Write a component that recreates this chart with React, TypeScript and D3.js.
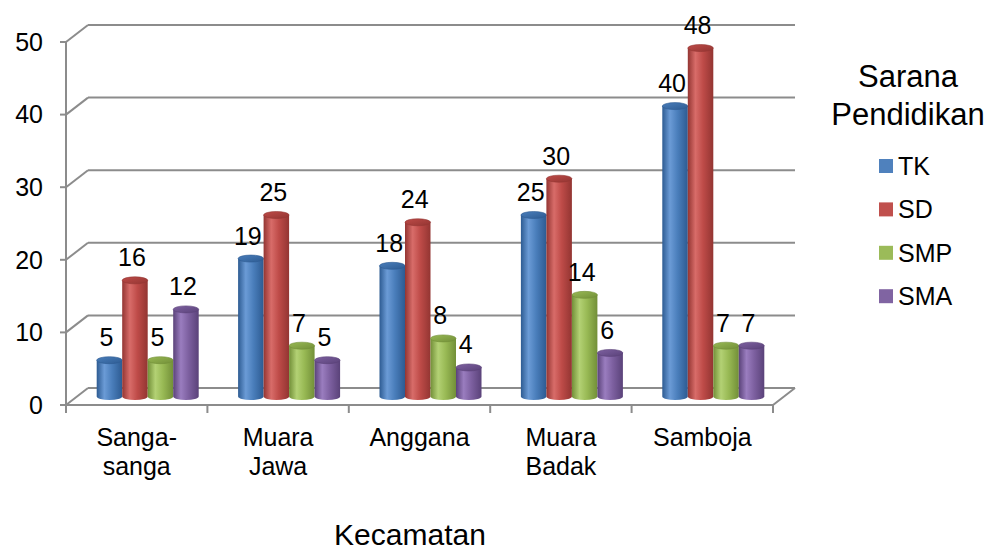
import React from "react";
import * as d3 from "d3";

const categories = ["Sanga-sanga", "Muara Jawa", "Anggana", "Muara Badak", "Samboja"];
const categoryLines = [["Sanga-", "sanga"], ["Muara", "Jawa"], ["Anggana"], ["Muara", "Badak"], ["Samboja"]];
const seriesNames = ["TK", "SD", "SMP", "SMA"];
const tkValues = [5, 19, 18, 25, 40];
const sdValues = [16, 25, 24, 30, 48];
const smpValues = [5, 7, 8, 14, 7];
const smaValues = [12, 5, 4, 6, 7];
const yTicks = [0, 10, 20, 30, 40, 50];

const seriesValues = [tkValues, sdValues, smpValues, smaValues];
// base colour, dark edge, highlight
const seriesColors = [
  { base: "#4a7ebb", dark: "#2d5b92", light: "#6b9bd6" },
  { base: "#be4b48", dark: "#933532", light: "#d86c69" },
  { base: "#98b954", dark: "#728f38", light: "#b3d174" },
  { base: "#7d60a0", dark: "#5a4279", light: "#9a7dbf" },
];
const legendColors = ["#4f81bd", "#c0504d", "#9bbb59", "#8064a2"];

const App: React.FC = () => {
  const width = 992;
  const height = 552;
  const font = "Arial, 'Liberation Sans', sans-serif";
  const grid = "#8c8c8c";

  // front plane of the plot and the depth offset of the back wall
  const left = 66;
  const right = 773;
  const bottom = 405;
  const top = 42;
  const depth = { dx: 22, dy: -17 };

  const x0 = d3.scaleBand<string>().domain(categories).range([left, right]).padding(0);
  const groupWidth = 102;
  const x1 = d3
    .scaleBand<string>()
    .domain(seriesNames)
    .range([0, groupWidth])
    .padding(0);
  const y = d3.scaleLinear().domain([0, 50]).range([bottom, top]);

  // bars sit half way into the depth
  const midDx = depth.dx / 2;
  const midDy = depth.dy / 2;
  const ry = 3.5;

  return (
    <svg
      width={width}
      height={height}
      style={{ position: "absolute", left: 0, top: 0, background: "#fff" }}
      fontFamily={font}
    >
      <defs>
        {seriesColors.map((c, i) => (
          <linearGradient key={i} id={`cyl${i}`} x1="0" x2="1" y1="0" y2="0">
            <stop offset="0%" stopColor={c.dark} />
            <stop offset="30%" stopColor={c.light} />
            <stop offset="60%" stopColor={c.base} />
            <stop offset="100%" stopColor={c.dark} />
          </linearGradient>
        ))}
        {seriesColors.map((c, i) => (
          <linearGradient key={i} id={`cap${i}`} x1="0" x2="1" y1="0" y2="1">
            <stop offset="0%" stopColor={c.base} />
            <stop offset="100%" stopColor={c.dark} />
          </linearGradient>
        ))}
      </defs>

      {/* Back wall gridlines and left wall diagonals */}
      {yTicks.map((t) => (
        <g key={t}>
          <line
            x1={left + depth.dx}
            x2={right + depth.dx}
            y1={y(t) + depth.dy}
            y2={y(t) + depth.dy}
            stroke={grid}
            strokeWidth={2}
          />
          <line
            x1={left}
            x2={left + depth.dx}
            y1={y(t)}
            y2={y(t) + depth.dy}
            stroke={grid}
            strokeWidth={2}
          />
          <line x1={left - 6} x2={left} y1={y(t)} y2={y(t)} stroke={grid} strokeWidth={2} />
          <text
            x={43}
            y={y(t)}
            dy="0.35em"
            textAnchor="end"
            fontSize={25}
            fill="#000"
          >
            {t}
          </text>
        </g>
      ))}

      {/* Floor */}
      <path
        d={`M${left},${bottom} L${right},${bottom} L${right + depth.dx},${bottom + depth.dy}`}
        fill="none"
        stroke={grid}
        strokeWidth={2}
      />
      {/* Vertical axis */}
      <line x1={left} x2={left} y1={top} y2={bottom} stroke={grid} strokeWidth={2} />
      {/* Category ticks */}
      {[...categories.map((c) => x0(c)!), right].map((xv, i) => (
        <line key={i} x1={xv} x2={xv} y1={bottom} y2={bottom + 8} stroke={grid} strokeWidth={2} />
      ))}

      {/* Cylinders */}
      {categories.map((cat, ci) => {
        const gx = x0(cat)! + (x0.bandwidth() - groupWidth) / 2 + midDx;
        return (
          <g key={cat}>
            {seriesNames.map((s, si) => {
              const v = seriesValues[si][ci];
              const bx = gx + x1(s)!;
              const bw = x1.bandwidth();
              const rx = bw / 2;
              const yBase = y(0) + midDy;
              const yTop = y(v) + midDy;
              return (
                <g key={s}>
                  <path
                    d={`M${bx},${yTop} L${bx},${yBase} A${rx},${ry} 0 0 0 ${bx + bw},${yBase} L${bx + bw},${yTop} Z`}
                    fill={`url(#cyl${si})`}
                  />
                  <ellipse
                    cx={bx + rx}
                    cy={yTop}
                    rx={rx}
                    ry={ry}
                    fill={`url(#cap${si})`}
                    stroke={seriesColors[si].dark}
                    strokeWidth={0.6}
                  />
                </g>
              );
            })}
          </g>
        );
      })}

      {/* Value labels */}
      {categories.map((cat, ci) => {
        const gx = x0(cat)! + (x0.bandwidth() - groupWidth) / 2 + midDx;
        return seriesNames.map((s, si) => {
          const v = seriesValues[si][ci];
          return (
            <text
              key={`${cat}-${s}`}
              x={gx + x1(s)! + x1.bandwidth() / 2 - 3}
              y={y(v) + midDy - 14}
              textAnchor="middle"
              fontSize={25}
              fill="#000"
            >
              {v}
            </text>
          );
        });
      })}

      {/* Category labels */}
      {categories.map((cat, ci) => (
        <text
          key={cat}
          x={x0(cat)! + x0.bandwidth() / 2}
          y={446}
          textAnchor="middle"
          fontSize={25}
          fill="#000"
        >
          {categoryLines[ci].map((ln, li) => (
            <tspan key={li} x={x0(cat)! + x0.bandwidth() / 2} dy={li === 0 ? 0 : 29}>
              {ln}
            </tspan>
          ))}
        </text>
      ))}

      {/* Axis title */}
      <text x={410} y={545} textAnchor="middle" fontSize={30} fill="#000">
        Kecamatan
      </text>

      {/* Legend */}
      <text x={908} y={87} textAnchor="middle" fontSize={31} fill="#000">
        Sarana
      </text>
      <text x={908} y={125} textAnchor="middle" fontSize={31} fill="#000">
        Pendidikan
      </text>
      {seriesNames.map((s, i) => {
        const cy = 166 + i * 43.4;
        return (
          <g key={s}>
            <rect x={879} y={cy - 7} width={14} height={14} fill={legendColors[i]} />
            <text x={898} y={cy} dy="0.36em" fontSize={25} fill="#000">
              {s}
            </text>
          </g>
        );
      })}
    </svg>
  );
};

export default App;
